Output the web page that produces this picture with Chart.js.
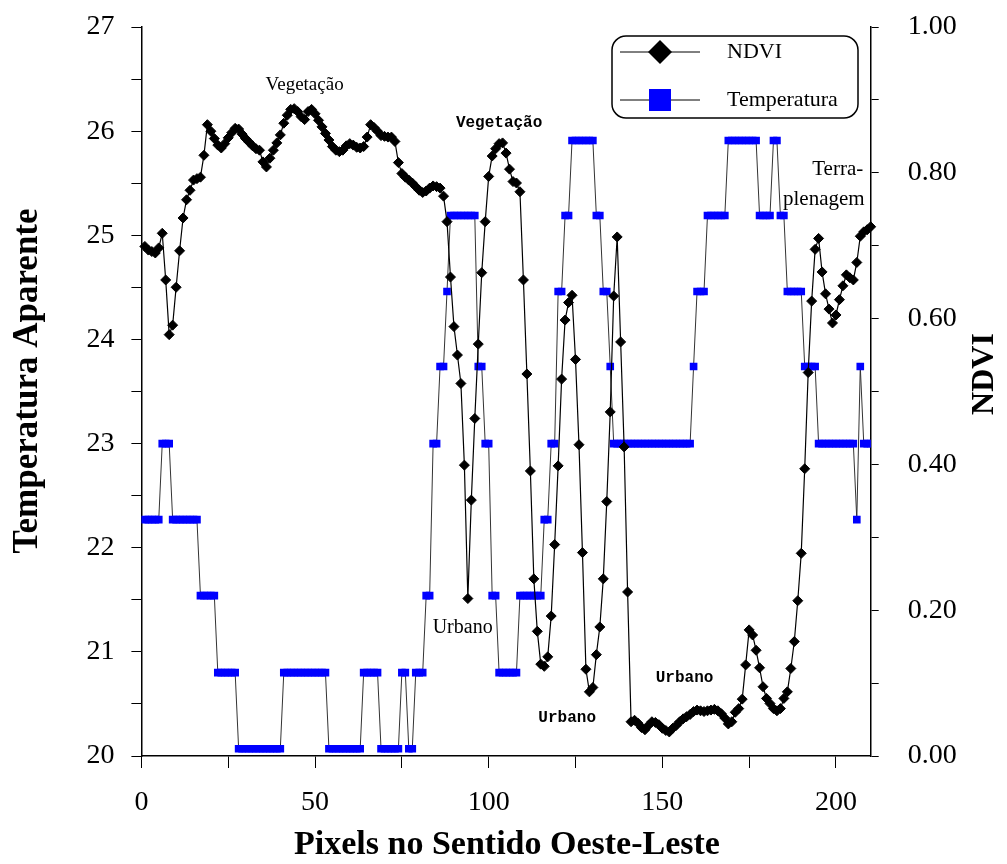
<!DOCTYPE html>
<html>
<head>
<meta charset="utf-8">
<script src="https://cdn.jsdelivr.net/npm/chart.js@4.4.1/dist/chart.umd.min.js"></script>
<style>
  html, body { margin: 0; padding: 0; background: #fff; }
  #wrap { width: 1007px; height: 864px; }
</style>
</head>
<body>
<div id="wrap"><canvas id="chart" width="1007" height="864"></canvas></div>
<script>
// ===== Dados =====
const pixelLabels = Array.from({ length: 210 }, (_, i) => i + 1);

const ndvi = [
  0.699, 0.694, 0.692, 0.690, 0.697, 0.717, 0.653, 0.578, 0.591, 0.643,
  0.693, 0.738, 0.763, 0.776, 0.790, 0.792, 0.794, 0.824, 0.866, 0.857,
  0.847, 0.838, 0.834, 0.840, 0.848, 0.855, 0.861, 0.860, 0.853, 0.847,
  0.842, 0.837, 0.833, 0.831, 0.815, 0.808, 0.820, 0.831, 0.841, 0.852,
  0.868, 0.879, 0.887, 0.888, 0.884, 0.877, 0.873, 0.884, 0.887, 0.881,
  0.872, 0.863, 0.854, 0.845, 0.836, 0.831, 0.829, 0.831, 0.837, 0.840,
  0.838, 0.835, 0.834, 0.836, 0.849, 0.866, 0.862, 0.857, 0.851, 0.850,
  0.849, 0.849, 0.843, 0.814, 0.799, 0.794, 0.790, 0.786, 0.781, 0.776,
  0.773, 0.775, 0.779, 0.782, 0.781, 0.779, 0.768, 0.733, 0.657, 0.589,
  0.550, 0.511, 0.399, 0.216, 0.351, 0.463, 0.565, 0.663, 0.733, 0.795,
  0.823, 0.833, 0.840, 0.841, 0.827, 0.805, 0.788, 0.786, 0.774, 0.653,
  0.524, 0.391, 0.243, 0.171, 0.126, 0.123, 0.136, 0.192, 0.290, 0.398,
  0.517, 0.598, 0.622, 0.632, 0.544, 0.427, 0.279, 0.119, 0.088, 0.094,
  0.139, 0.177, 0.243, 0.349, 0.472, 0.631, 0.712, 0.568, 0.424, 0.225,
  0.047, 0.049, 0.045, 0.039, 0.036, 0.042, 0.047, 0.046, 0.043, 0.038,
  0.035, 0.033, 0.038, 0.042, 0.047, 0.051, 0.054, 0.057, 0.061, 0.063,
  0.062, 0.061, 0.062, 0.063, 0.064, 0.062, 0.058, 0.052, 0.044, 0.047,
  0.060, 0.065, 0.078, 0.125, 0.173, 0.166, 0.145, 0.121, 0.095, 0.079,
  0.072, 0.065, 0.062, 0.065, 0.079, 0.088, 0.120, 0.157, 0.213, 0.278,
  0.394, 0.526, 0.624, 0.695, 0.710, 0.664, 0.634, 0.613, 0.594, 0.605,
  0.626, 0.645, 0.660, 0.656, 0.653, 0.677, 0.713, 0.719, 0.722, 0.726
];

const temperatura = [
  22.27, 22.27, 22.27, 22.27, 22.27, 23.00, 23.00, 23.00, 22.27, 22.27,
  22.27, 22.27, 22.27, 22.27, 22.27, 22.27, 21.54, 21.54, 21.54, 21.54,
  21.54, 20.80, 20.80, 20.80, 20.80, 20.80, 20.80, 20.07, 20.07, 20.07,
  20.07, 20.07, 20.07, 20.07, 20.07, 20.07, 20.07, 20.07, 20.07, 20.07,
  20.80, 20.80, 20.80, 20.80, 20.80, 20.80, 20.80, 20.80, 20.80, 20.80,
  20.80, 20.80, 20.80, 20.07, 20.07, 20.07, 20.07, 20.07, 20.07, 20.07,
  20.07, 20.07, 20.07, 20.80, 20.80, 20.80, 20.80, 20.80, 20.07, 20.07,
  20.07, 20.07, 20.07, 20.07, 20.80, 20.80, 20.07, 20.07, 20.80, 20.80,
  20.80, 21.54, 21.54, 23.00, 23.00, 23.74, 23.74, 24.46, 25.19, 25.19,
  25.19, 25.19, 25.19, 25.19, 25.19, 25.19, 23.74, 23.74, 23.00, 23.00,
  21.54, 21.54, 20.80, 20.80, 20.80, 20.80, 20.80, 20.80, 21.54, 21.54,
  21.54, 21.54, 21.54, 21.54, 21.54, 22.27, 22.27, 23.00, 23.00, 24.46,
  24.46, 25.19, 25.19, 25.91, 25.91, 25.91, 25.91, 25.91, 25.91, 25.91,
  25.19, 25.19, 24.46, 24.46, 23.74, 23.00, 23.00, 23.00, 23.00, 23.00,
  23.00, 23.00, 23.00, 23.00, 23.00, 23.00, 23.00, 23.00, 23.00, 23.00,
  23.00, 23.00, 23.00, 23.00, 23.00, 23.00, 23.00, 23.00, 23.74, 24.46,
  24.46, 24.46, 25.19, 25.19, 25.19, 25.19, 25.19, 25.19, 25.91, 25.91,
  25.91, 25.91, 25.91, 25.91, 25.91, 25.91, 25.91, 25.19, 25.19, 25.19,
  25.19, 25.91, 25.91, 25.19, 25.19, 24.46, 24.46, 24.46, 24.46, 24.46,
  23.74, 23.74, 23.74, 23.74, 23.00, 23.00, 23.00, 23.00, 23.00, 23.00,
  23.00, 23.00, 23.00, 23.00, 23.00, 22.27, 23.74, 23.00, 23.00, 23.00
];

const xTicks = [0, 50, 100, 150, 200];
const tempTicks = [20, 21, 22, 23, 24, 25, 26, 27];
const ndviTicks = [0.0, 0.2, 0.4, 0.6, 0.8, 1.0];

// ===== Textos =====
const SERIF = "'Liberation Serif', 'Times New Roman', serif";
const SLAB = "'Liberation Mono', 'Courier New', monospace";

const anotacoes = [
  { text: 'Vegetação', x: 47, v: 0.92, font: '19px ' + SERIF },
  { text: 'Vegetação', x: 103, v: 0.868, font: 'bold 16px ' + SLAB },
  { text: 'Urbano', x: 92.5, v: 0.176, font: '20px ' + SERIF },
  { text: 'Urbano', x: 122.6, v: 0.052, font: 'bold 16px ' + SLAB },
  { text: 'Urbano', x: 156.4, v: 0.107, font: 'bold 16px ' + SLAB },
  { text: 'Terra-', x: 200.5, v: 0.804, font: '21px ' + SERIF },
  { text: 'plenagem', x: 196.5, v: 0.764, font: '21px ' + SERIF }
];

// ===== Plugin: titulos, anotacoes e legenda =====
const extras = {
  id: 'extras',
  afterDraw(chart) {
    const { ctx, chartArea: a, scales } = chart;
    ctx.save();
    ctx.fillStyle = '#000';

    // titulos dos eixos
    ctx.textAlign = 'center';
    ctx.textBaseline = 'middle';
    ctx.font = 'bold 34px ' + SERIF;
    ctx.fillText('Pixels no Sentido Oeste-Leste', 507, 845);

    ctx.save();
    ctx.translate(28, 381);
    ctx.rotate(-Math.PI / 2);
    ctx.font = 'bold 35px ' + SERIF;
    ctx.fillText('Temperatura Aparente', 0, 0);
    ctx.restore();

    ctx.save();
    ctx.translate(985, 374);
    ctx.rotate(-Math.PI / 2);
    ctx.font = 'bold 32px ' + SERIF;
    ctx.fillText('NDVI', 0, 0);
    ctx.restore();

    // anotacoes
    anotacoes.forEach(n => {
      ctx.font = n.font;
      ctx.fillText(n.text, scales.x.getPixelForValue(n.x), scales.y2.getPixelForValue(n.v));
    });

    // legenda
    const lx = 612, ly = 36, lw = 246, lh = 82;
    ctx.beginPath();
    ctx.roundRect(lx, ly, lw, lh, 14);
    ctx.lineWidth = 1.5;
    ctx.strokeStyle = '#000';
    ctx.stroke();

    const rows = [
      { y: ly + 16, label: 'NDVI' },
      { y: ly + 64, label: 'Temperatura' }
    ];
    rows.forEach((r, i) => {
      ctx.beginPath();
      ctx.moveTo(lx + 8, r.y);
      ctx.lineTo(lx + 88, r.y);
      ctx.lineWidth = 1;
      ctx.strokeStyle = '#000';
      ctx.stroke();
      const cx = lx + 48;
      if (i === 0) {
        ctx.beginPath();
        ctx.moveTo(cx - 12, r.y);
        ctx.lineTo(cx, r.y - 12);
        ctx.lineTo(cx + 12, r.y);
        ctx.lineTo(cx, r.y + 12);
        ctx.closePath();
        ctx.fillStyle = '#000';
        ctx.fill();
      } else {
        ctx.fillStyle = '#0000ff';
        ctx.fillRect(cx - 11, r.y - 11, 22, 22);
      }
      ctx.fillStyle = '#000';
      ctx.font = '22px ' + SERIF;
      ctx.textAlign = 'left';
      ctx.fillText(r.label, lx + 115, r.y);
    });
    ctx.restore();
  }
};

// os eixos verticais nao devem empurrar a area do grafico
function fixVertical(width) {
  return s => {
    s.width = width;
    s.paddingTop = 0;
    s.paddingBottom = 0;
  };
}

// ===== Chart =====
const ctx = document.getElementById('chart').getContext('2d');
new Chart(ctx, {
  type: 'line',
  data: {
    labels: pixelLabels,
    datasets: [
      {
        label: 'NDVI',
        data: pixelLabels.map((p, i) => ({ x: p, y: ndvi[i] })),
        yAxisID: 'y2',
        borderColor: '#000',
        borderWidth: 1.2,
        pointStyle: 'rectRot',
        pointRadius: 5,
        pointBackgroundColor: '#000',
        pointBorderColor: '#000',
        pointBorderWidth: 1,
        tension: 0,
        clip: 6
      },
      {
        label: 'Temperatura',
        data: pixelLabels.map((p, i) => ({ x: p, y: temperatura[i] })),
        yAxisID: 'y',
        borderColor: '#333',
        borderWidth: 1,
        pointStyle: 'rect',
        pointRadius: 5.4,
        pointBackgroundColor: '#0000ff',
        pointBorderWidth: 0,
        pointBorderColor: 'rgba(0,0,0,0)',
        tension: 0,
        clip: 0
      }
    ]
  },
  options: {
    responsive: false,
    devicePixelRatio: 1,
    animation: false,
    layout: { padding: { top: 27, left: 0, right: 0, bottom: 0 } },
    plugins: { legend: { display: false }, tooltip: { enabled: false } },
    scales: {
      x: {
        type: 'linear',
        min: 0,
        max: 210,
        afterFit: s => { s.height = 108; },
        afterBuildTicks: s => {
          s.ticks = [0, 25, 50, 75, 100, 125, 150, 175, 200].map(v => ({ value: v }));
        },
        ticks: {
          autoSkip: false,
          maxRotation: 0,
          padding: 18,
          color: '#000',
          font: { family: SERIF, size: 28 },
          callback: v => (xTicks.includes(v) ? String(v) : '')
        },
        grid: { drawOnChartArea: false, drawTicks: true, tickLength: 12, color: '#000', tickWidth: 1 },
        border: { display: true, color: '#000', width: 1.5 }
      },
      y: {
        position: 'left',
        min: 20,
        max: 27,
        afterFit: fixVertical(141.4),
        ticks: {
          stepSize: 0.5,
          autoSkip: false,
          padding: 17,
          color: '#000',
          font: { family: SERIF, size: 28 },
          callback: v => (tempTicks.includes(v) ? String(v) : '')
        },
        grid: { drawOnChartArea: false, drawTicks: true, tickLength: 10, color: '#000', tickWidth: 1 },
        border: { display: true, color: '#000', width: 1.5 }
      },
      y2: {
        position: 'right',
        min: 0,
        max: 1,
        afterFit: fixVertical(136.3),
        ticks: {
          stepSize: 0.1,
          autoSkip: false,
          padding: 29,
          color: '#000',
          font: { family: SERIF, size: 28 },
          callback: v => {
            const r = Math.round(v * 10) / 10;
            return ndviTicks.some(t => Math.abs(t - r) < 1e-6) ? r.toFixed(2) : '';
          }
        },
        grid: { drawOnChartArea: false, drawTicks: true, tickLength: 8, color: '#000', tickWidth: 1 },
        border: { display: true, color: '#000', width: 1.5 }
      }
    }
  },
  plugins: [extras]
});
</script>
</body>
</html>
